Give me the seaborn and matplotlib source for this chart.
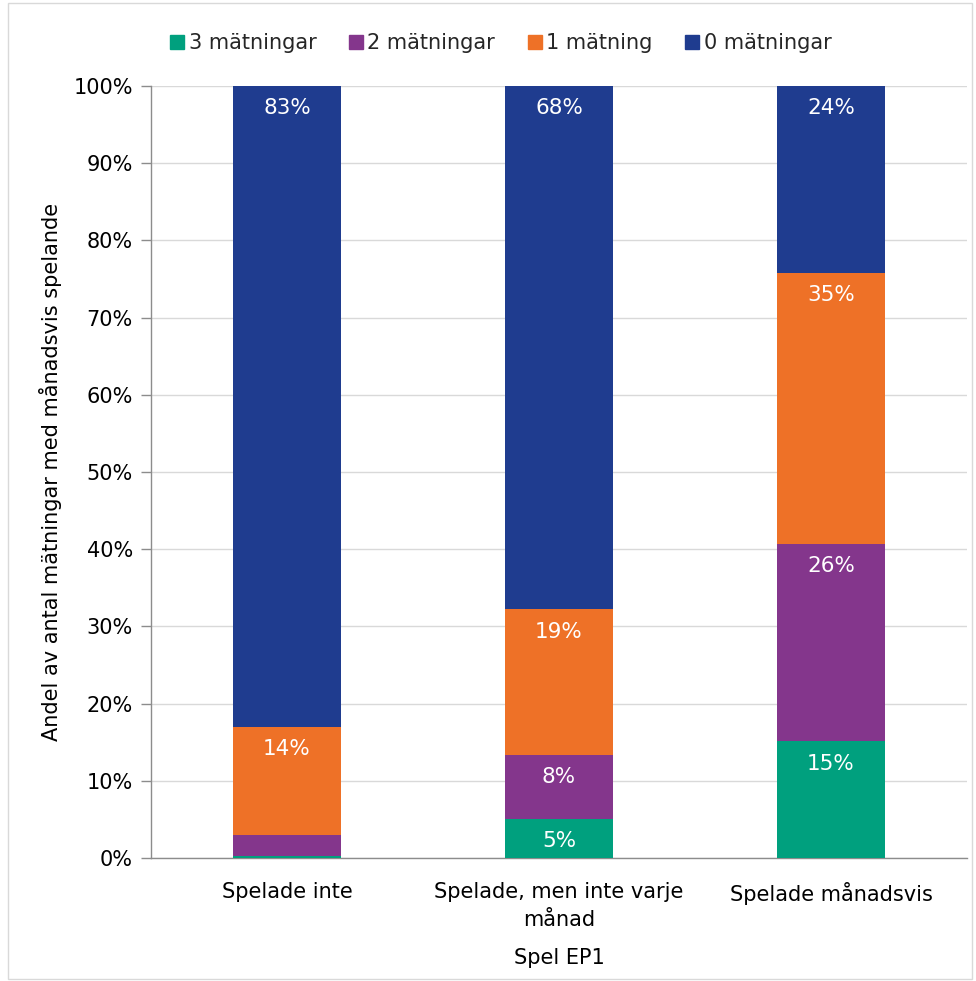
import matplotlib
matplotlib.use("Agg")
import matplotlib.pyplot as plt
from matplotlib.lines import Line2D
from matplotlib.patches import Rectangle
import numpy as np
import pandas as pd
import seaborn as sns

# Categories and shares (percent) per number of measurements
categories = ["Spelade inte", "Spelade, men inte varje\nmånad", "Spelade månadsvis"]
series_names = ["3 mätningar", "2 mätningar", "1 mätning", "0 mätningar"]
share_3 = [0.3, 5.1, 15.1]
share_2 = [2.7, 8.3, 25.6]
share_1 = [14.0, 18.8, 35.1]
share_0 = [83.0, 67.8, 24.2]
colors = ["#00A07E", "#84368C", "#EE7127", "#1F3C8F"]
y_ticks = [0, 10, 20, 30, 40, 50, 60, 70, 80, 90, 100]
label_min = 4.0  # segments smaller than this get no label

sns.set_theme(style="white")
plt.rcParams["font.family"] = ["DejaVu Sans"]

fig = plt.figure(figsize=(9.76, 9.81), dpi=100)
ax = fig.add_axes([151 / 976, 1 - 858 / 981, 816 / 976, 772 / 981])

layers = [share_3, share_2, share_1, share_0]
bottom = np.zeros(len(categories))
for name, vals, col in zip(series_names, layers, colors):
    df = pd.DataFrame({"cat": categories, "val": vals})
    sns.barplot(data=df, x="cat", y="val", color=col, saturation=1,
                width=0.4, bottom=bottom, ax=ax, errorbar=None, zorder=3,
                linewidth=0, edgecolor=col)
    tops = bottom + np.array(vals)
    for i, v in enumerate(vals):
        if v >= label_min:
            ax.annotate(f"{round(v):.0f}%", (i, tops[i]), xytext=(0, -16),
                        textcoords="offset points", ha="center", va="center",
                        color="white", fontsize=15.5, zorder=5)
    bottom = tops

ax.set_ylim(0, 100)
ax.set_xlim(-0.5, 2.5)
ax.set_yticks(y_ticks)
ax.set_yticklabels([f"{t}%" for t in y_ticks])
ax.yaxis.grid(True, color="#D9D9D9", linewidth=1, zorder=0)
ax.set_axisbelow(True)
for s in ["top", "right"]:
    ax.spines[s].set_visible(False)
for s in ["left", "bottom"]:
    ax.spines[s].set_color("#8C8C8C")
    ax.spines[s].set_linewidth(1)
ax.tick_params(axis="y", which="major", left=True, length=7, width=1,
               color="#8C8C8C", labelsize=15, labelcolor="black", pad=6)
ax.tick_params(axis="x", bottom=False, labelsize=15, labelcolor="black", pad=11)
for lbl in ax.get_xticklabels():
    lbl.set_linespacing(1.55)
ax.set_ylabel("Andel av antal mätningar med månadsvis spelande", fontsize=15,
              color="black", labelpad=8)
ax.set_xlabel("Spel EP1", fontsize=15, color="black", labelpad=13)

handles = [Line2D([], [], marker="s", linestyle="", markersize=10,
                  markerfacecolor=c, markeredgecolor=c) for c in colors]
fig.legend(handles, series_names, loc="center", ncol=4,
           bbox_to_anchor=(500 / 976, 1 - 43 / 981), frameon=False,
           fontsize=15, handletextpad=0.15, columnspacing=1.5, handlelength=0.8)

fig.patches.append(Rectangle((8 / 976, 2 / 981), 964 / 976, 976 / 981,
                             transform=fig.transFigure, fill=False,
                             edgecolor="#D9D9D9", linewidth=1))

fig.savefig("out.png", dpi=100, facecolor="white")
